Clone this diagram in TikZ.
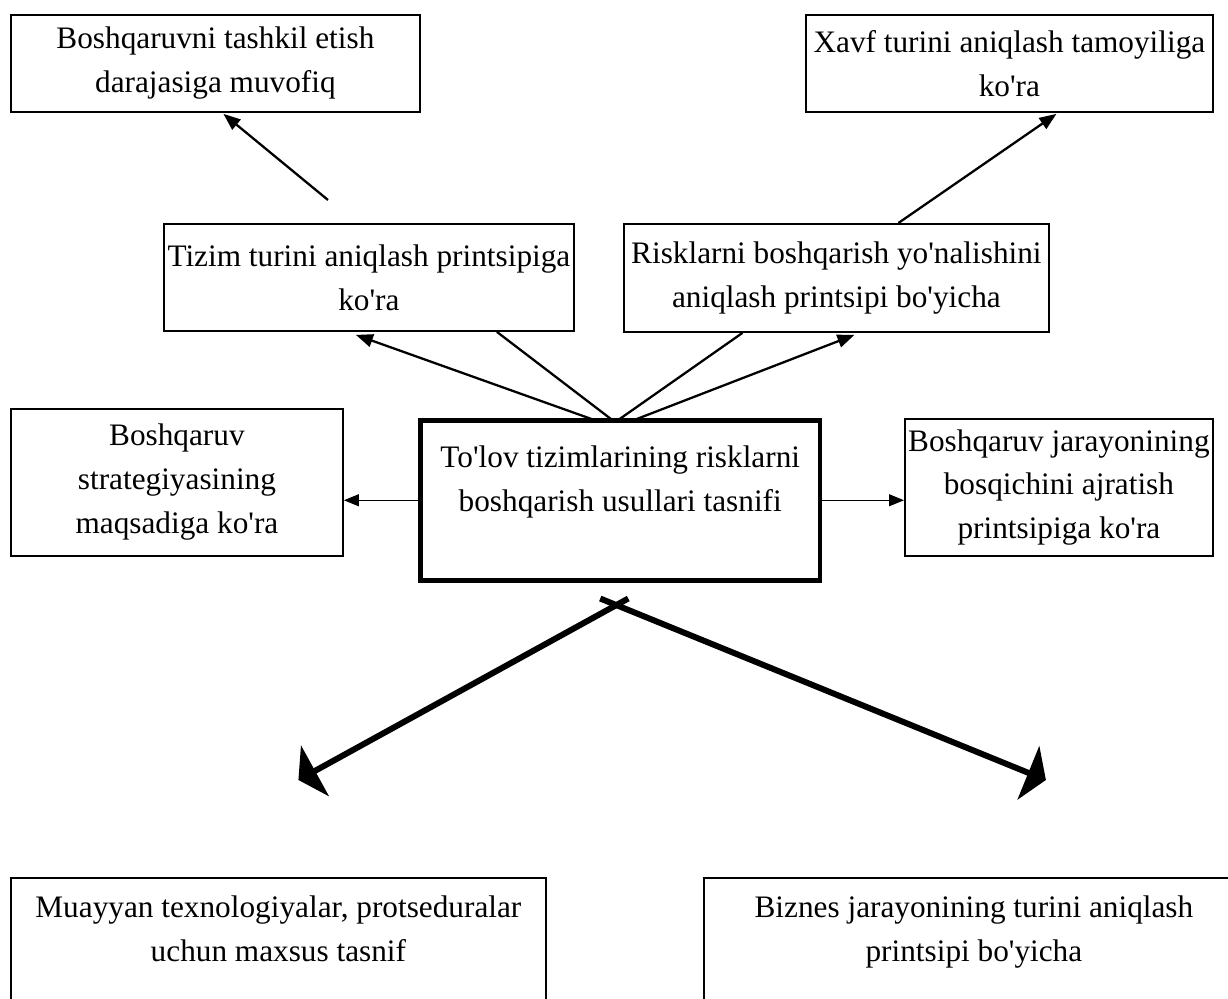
\documentclass[tikz,border=0pt]{standalone}
\usepackage{fontspec}
\setmainfont{Liberation Serif}
\usetikzlibrary{calc,arrows.meta}

\newcommand{\apo}{\textquotesingle}

\tikzset{
  tbox/.style={draw, line width=1.1pt, inner sep=0pt, anchor=north west,
    align=center, font=\fontsize{17.8}{25}\selectfont},
  mainbox/.style={tbox, line width=2.6pt},
  conn/.style={line width=1.3pt},
  tip/.style={-{Triangle[length=0.34cm,width=0.26cm]}},
  bigconn/.style={line width=3.4pt, -{Triangle[length=0.38cm,width=1.15cm]}}
}

\begin{document}
\begin{tikzpicture}[x=0.02cm,y=-0.02cm]
  \useasboundingbox (0,0) rectangle (1228,999);

  % boxes
  \node[tbox,minimum width=8.18cm,minimum height=1.94cm] (b1) at (10,14)
    {Boshqaruvni tashkil etish\\ darajasiga muvofiq};
  \node[tbox,minimum width=8.14cm,minimum height=1.94cm] (b2) at (805,14)
    {Xavf turini aniqlash tamoyiliga\\ ko\apo ra};
  \node[tbox,minimum width=8.2cm,minimum height=2.14cm] (b3) at (163,223)
    {Tizim turini aniqlash printsipiga\\ ko\apo ra};
  \node[tbox,minimum width=8.5cm,minimum height=2.16cm] (b4) at (623,223)
    {Risklarni boshqarish yo\apo nalishini\\ aniqlash printsipi bo\apo yicha};
  \node[tbox,minimum width=6.64cm,minimum height=2.94cm] (b5) at (10,408)
    {Boshqaruv\\ strategiyasining\\ maqsadiga ko\apo ra};
  \node[mainbox,minimum width=8cm,minimum height=3.2cm] (c) at (418,418)
    {To\apo lov tizimlarining risklarni\\ boshqarish usullari tasnifi\\ ~};
  \node[tbox,minimum width=6.16cm,minimum height=2.74cm] (b7) at (904,418)
    {Boshqaruv jarayonining\\ bosqichini ajratish\\ printsipiga ko\apo ra};
  \node[tbox,minimum width=10.7cm,minimum height=2.9cm] (b8) at (10,877)
    {Muayyan texnologiyalar, protseduralar\\ uchun maxsus tasnif\\ ~};
  \node[tbox,minimum width=10.8cm,minimum height=2.9cm] (b9) at (703,877)
    {Biznes jarayonining turini aniqlash\\ printsipi bo\apo yicha\\ ~};

  \coordinate (t1) at (328,200);

  % arrows
  \path[conn]
    (t1) edge[tip] ($(b1.south)+(8,1)$)
    ($(b4.north)+(62,0)$) edge[tip] ($(b2.south)+(47,1)$)
    ($(c.north)+(-26,2)$) edge[tip] ($(b3.south)+(-13,3)$)
    ($(c.north)+(-8,2)$) edge ($(b3.south)+(128,0)$)
    ($(c.north)+(-2,2)$) edge ($(b4.south)+(-94,0)$)
    ($(c.north)+(14,2)$) edge[tip] ($(b4.south)+(18,2)$);
  \path[line width=0.6pt,-{Triangle[length=0.3cm,width=0.24cm]}]
    (c.west) edge (c.west-|b5.east)
    (c.east) edge (c.east-|b7.west);
  \draw[bigconn] ($(c.south)+(8,16)$) -- ($(b8.north)+(20,-97)$);
  \draw[bigconn] ($(c.south)+(-20,16)$) -- ($(b9.north)+(72,-97)$);
\end{tikzpicture}
\end{document}
